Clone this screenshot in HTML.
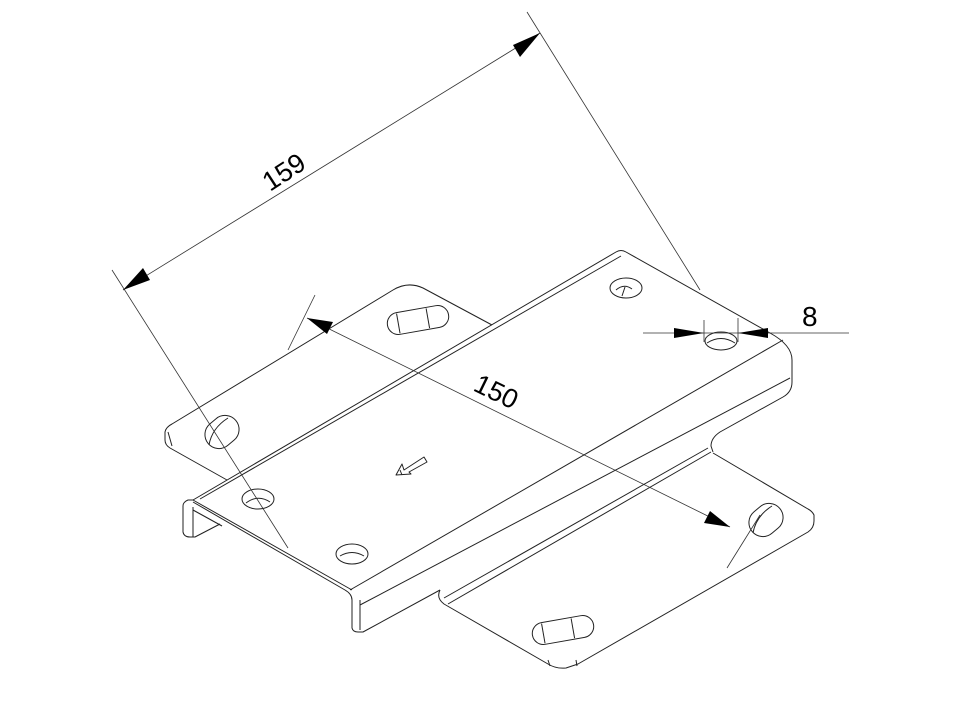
<!DOCTYPE html>
<html><head><meta charset="utf-8"><style>
html,body{margin:0;padding:0;background:#fff;width:960px;height:720px;overflow:hidden}
svg{display:block}
text{font-family:"Liberation Sans",sans-serif;fill:#000}
</style></head><body>
<svg width="960" height="720" viewBox="0 0 960 720" xmlns="http://www.w3.org/2000/svg">
<g fill="none" stroke="#222" stroke-width="1" stroke-linejoin="round">
<!-- left tab -->
<path d="M227,480 L170,448 Q165,445 165,440 L165,432 Q166,427 172,424 L393,290 Q408,281 423,288 L492,325"/>
<line x1="168" y1="432" x2="172" y2="446"/>
<!-- main plate top face -->
<path d="M352,590 L193,500 L188,500 Q183,502 183,506 L183,532 Q184,537 190,537 L195,537 L220,524"/>
<path d="M193,500 L616,252 Q621,249 626,252 L770,333 Q792,345 792,360 L792,382 Q792,392 783,397 L720,432 Q711,438 711,446 L713,452"/>
<path d="M193,507 L193,537"/>
<path d="M193,510 L222,526"/>
<path d="M200,499 L621,256"/>
<!-- front fold -->
<path d="M193,502 L345,590 Q352,594 352,600 L352,628 Q353,632 358,632 L363,632 L440,590"/>
<path d="M360,600 L360,630"/>
<path d="M350,590 L783,340"/>
<path d="M360,605 L790,378"/>
<!-- lower plate -->
<path d="M440,590 Q436,598 444,604 L548,664 Q556,669 566,668 L578,664 L808,532 Q814,528 814,521 L814,515 Q812,511 808,509 L713,453"/>
<path d="M444,598 L708,448"/>
<path d="M448,604 L711,452"/>
<line x1="548" y1="660" x2="550" y2="666"/>
<line x1="576" y1="660" x2="577" y2="666"/>
<!-- holes -->
<ellipse cx="626" cy="288" rx="16" ry="10"/>
<path d="M616,290 Q624,283 632,289 M625,287 L622,296"/>
<ellipse cx="721" cy="341" rx="16" ry="9"/>
<path d="M707,343 Q721,334 735,343"/>
<ellipse cx="258" cy="499" rx="16" ry="10"/>
<path d="M246,503 Q258,494 270,502"/>
<ellipse cx="352" cy="554" rx="16" ry="10"/>
<path d="M340,556 Q352,549 364,556"/>
<g transform="rotate(-10 418 320)"><rect x="387" y="309" width="62" height="22" rx="11"/><line x1="398" y1="310" x2="398" y2="330"/><line x1="428" y1="310" x2="428" y2="330"/></g>
<g transform="rotate(-10 563 630)"><rect x="532" y="619" width="62" height="22" rx="11"/><line x1="543" y1="620" x2="543" y2="640"/><line x1="573" y1="620" x2="573" y2="640"/></g>
<g transform="rotate(-40 222 432)"><rect x="204" y="418" width="36" height="28" rx="14"/></g>
<path d="M209,445 Q212,428 228,418"/>
<g transform="rotate(-40 766 520)"><rect x="748" y="506" width="36" height="28" rx="14"/></g>
<path d="M753,533 Q756,516 772,506"/>
<!-- small arrow symbol -->
<path d="M396,475 L402,464 L404,470 L424,457 L427,462 L409,472 L411,474 Z"/>
<line x1="400" y1="470" x2="402" y2="475"/>
</g>
<!-- dimension lines -->
<g stroke="#333" stroke-width="0.8" fill="none">
<line x1="112" y1="270" x2="288" y2="548"/>
<line x1="527" y1="12" x2="700" y2="290"/>
<line x1="123" y1="290" x2="540" y2="33"/>
<line x1="315" y1="295" x2="288" y2="350"/>
<line x1="307" y1="318" x2="730" y2="527"/>
<line x1="760" y1="515" x2="727" y2="568"/>
<line x1="643" y1="333" x2="849" y2="333"/>
<line x1="704" y1="320" x2="704" y2="342"/>
<line x1="738" y1="318" x2="738" y2="342"/>
</g>
<g fill="#000">
<polygon points="123,290 143,268 150,280"/>
<polygon points="540,33 513,45 520,57"/>
<polygon points="307,318 333,322 327,334"/>
<polygon points="730,527 704,523 710,511"/>
<polygon points="704,333 674,328 674,338"/>
<polygon points="738,333 768,328 768,338"/>
</g>
<text x="0" y="0" font-size="27" transform="translate(270,192) rotate(-33)">159</text>
<text x="0" y="0" font-size="27" transform="translate(472,390) rotate(26)">150</text>
<text x="802" y="326" font-size="28">8</text>
</svg>
</body></html>
